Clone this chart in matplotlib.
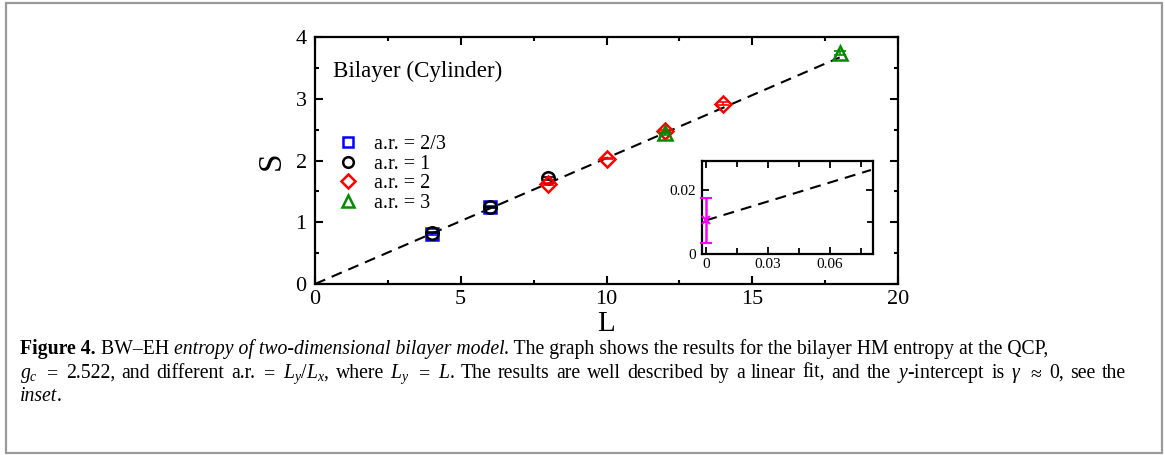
import matplotlib
matplotlib.use('Agg')
import matplotlib.pyplot as plt
from matplotlib.lines import Line2D
from matplotlib.patches import Rectangle
from matplotlib.ticker import MultipleLocator
from matplotlib.transforms import IdentityTransform
from matplotlib.font_manager import FontProperties

plt.rcParams['font.family'] = ['Liberation Serif', 'DejaVu Serif']
plt.rcParams['mathtext.fontset'] = 'custom'
plt.rcParams['mathtext.rm'] = 'Liberation Serif'
plt.rcParams['mathtext.it'] = 'Liberation Serif:italic'
plt.rcParams['mathtext.bf'] = 'Liberation Serif:bold'

# datos
L_ar23 = [4, 6]
S_ar23 = [0.81, 1.25]
err_ar23 = [0.01, 0.01]

L_ar1 = [4, 6, 8]
S_ar1 = [0.83, 1.24, 1.71]
err_ar1 = [0.01, 0.01, 0.02]

L_ar2 = [8, 10, 12, 14]
S_ar2 = [1.62, 2.03, 2.47, 2.92]
err_ar2 = [0.01, 0.01, 0.02, 0.02]

L_ar3 = [12, 18]
S_ar3 = [2.44, 3.74]
err_ar3 = [0.02, 0.03]

fit_L = [0, 18]
fit_S = [0.0, 3.67]

inset_x = [0.0, 0.08]
inset_y = [0.0105, 0.0262]
gamma_x = [0.0]
gamma_y = [0.0105]
gamma_err = [0.007]

colores = {'ar23': '#0000ff', 'ar1': '#000000', 'ar2': '#ff0000', 'ar3': '#008c00'}

fig = plt.figure(figsize=(11.65, 4.55), dpi=100)
W, H = 1165, 455

# marco gris de la figura
fig.patches.append(Rectangle((6 / W, 2 / H), 1156 / W, 450 / H, transform=fig.transFigure,
                             fill=False, edgecolor='#9a9a9a', linewidth=1.6))

ax = fig.add_axes([315 / W, 1 - 284 / H, 583 / W, 247 / H])

ax.plot(fit_L, fit_S, color='black', linewidth=1.5, dashes=(5.3, 3.4), zorder=1)

series = [
    (L_ar23, S_ar23, err_ar23, 's', 8.5, colores['ar23'], 'a.r. = 2/3'),
    (L_ar1, S_ar1, err_ar1, 'o', 9, colores['ar1'], 'a.r. = 1'),
    (L_ar2, S_ar2, err_ar2, 'D', 8, colores['ar2'], 'a.r. = 2'),
    (L_ar3, S_ar3, err_ar3, '^', 10, colores['ar3'], 'a.r. = 3'),
]
handles = []
for i, (xs, ys, es, mk, ms, c, lab) in enumerate(series):
    ax.plot(xs, ys, ls='none', marker=mk, ms=ms, mfc='none', mec=c, mew=1.8, zorder=3 + i)
    ax.errorbar(xs, ys, yerr=es, fmt='none', ecolor=c, elinewidth=1.2, capsize=4, capthick=1.2, zorder=3 + i)
    handles.append(Line2D([], [], ls='none', marker=mk, ms=ms * 0.85, mfc='none', mec=c, mew=1.8, label=lab))

ax.set_xlim(0, 20)
ax.set_ylim(0, 4)
ax.xaxis.set_major_locator(MultipleLocator(5))
ax.xaxis.set_minor_locator(MultipleLocator(2.5))
ax.yaxis.set_major_locator(MultipleLocator(1))
ax.yaxis.set_minor_locator(MultipleLocator(0.5))
ax.tick_params(which='both', direction='in', top=True, right=True, width=1.5, labelsize=16)
ax.tick_params(which='major', length=6)
ax.tick_params(which='minor', length=3)
ax.tick_params(axis='x', pad=4)
ax.tick_params(axis='y', pad=6)
for sp in ax.spines.values():
    sp.set_linewidth(1.6)

ax.set_xlabel('L', fontsize=21, labelpad=2)
ax.set_ylabel('S', fontsize=24, labelpad=6)

ax.text(0.031, 0.838, 'Bilayer (Cylinder)', transform=ax.transAxes, fontsize=16.6, va='baseline')

ax.legend(handles=handles, loc='upper left', bbox_to_anchor=(0.040, 0.602), frameon=False,
          handlelength=1.0, handletextpad=0.75, labelspacing=0.02, borderpad=0,
          borderaxespad=0, fontsize=14.5, numpoints=1)

# inset: intercepto
axi = fig.add_axes([702 / W, 1 - 254 / H, 171 / W, 93 / H])
axi.plot(inset_x, inset_y, color='black', linewidth=1.5, dashes=(5.3, 3.4))
axi.errorbar(gamma_x, gamma_y, yerr=gamma_err, fmt='x', color='#ff00ff', ms=6, mew=1.5,
             elinewidth=1.8, capsize=4, capthick=1.8, clip_on=False, zorder=5)
axi.set_xlim(-0.002, 0.081)
axi.set_ylim(0, 0.029)
axi.xaxis.set_major_locator(MultipleLocator(0.03))
axi.xaxis.set_minor_locator(MultipleLocator(0.015))
axi.yaxis.set_major_locator(MultipleLocator(0.02))
axi.yaxis.set_minor_locator(MultipleLocator(0.01))
axi.xaxis.set_major_formatter(lambda v, p: '0' if abs(v) < 1e-9 else f'{v:.2f}')
axi.yaxis.set_major_formatter(lambda v, p: '0' if abs(v) < 1e-9 else f'{v:.2f}')
axi.tick_params(which='both', direction='in', top=True, right=True, width=1.3, labelsize=11)
axi.tick_params(which='major', length=5)
axi.tick_params(which='minor', length=4)
axi.tick_params(axis='x', pad=3)
axi.tick_params(axis='y', pad=4)
for sp in axi.spines.values():
    sp.set_linewidth(1.6)

# pie de figura
cap_size = 14.2
renderer = fig.canvas.get_renderer()


def ancho(s, prop):
    w1, _, _ = renderer.get_text_width_height_descent('|' + s + '|', prop, ismath=False)
    w0, _, _ = renderer.get_text_width_height_descent('||', prop, ismath=False)
    return w1 - w0


def escribir(x, y, trozos):
    for s, estilo, peso in trozos:
        prop = FontProperties(family='Liberation Serif', style=estilo, weight=peso, size=cap_size)
        fig.text(x, H - y, s, fontproperties=prop, transform=IdentityTransform(), va='baseline')
        x += ancho(s, prop)


def justificar(x0, x1, y, palabras):
    # linea justificada: reparte el espacio sobrante entre las palabras
    textos = [fig.text(0, H - y, p, transform=IdentityTransform(), va='baseline', fontsize=cap_size)
              for p in palabras]
    anchos = [t.get_window_extent(renderer).width for t in textos]
    hueco = (x1 - x0 - sum(anchos)) / (len(textos) - 1)
    x = x0
    for t, w in zip(textos, anchos):
        t.set_x(x)
        x += w + hueco


escribir(20, 354, [
    ('Figure 4.', 'normal', 'bold'),
    (' BW\u2013EH ', 'normal', 'normal'),
    ('entropy of two-dimensional bilayer model', 'italic', 'normal'),
    ('. The graph shows the results for the bilayer HM entropy at the QCP,', 'normal', 'normal'),
])
linea2 = [r'$g_c$', r'$=$', '2.522,', 'and', 'different', 'a.r.', r'$=$', r'$L_y/L_x$,', 'where',
          r'$L_y$', r'$=$', r'$L$.', 'The', 'results', 'are', 'well', 'described', 'by', 'a',
          'linear', 'fit,', 'and', 'the', r'$y$-intercept', 'is', r'$\gamma$', r'$\approx$', '0,',
          'see', 'the']
justificar(20, 1126, 378, linea2)
escribir(20, 401, [
    ('inset', 'italic', 'normal'),
    ('.', 'normal', 'normal'),
])

fig.savefig('out.png', dpi=100)
